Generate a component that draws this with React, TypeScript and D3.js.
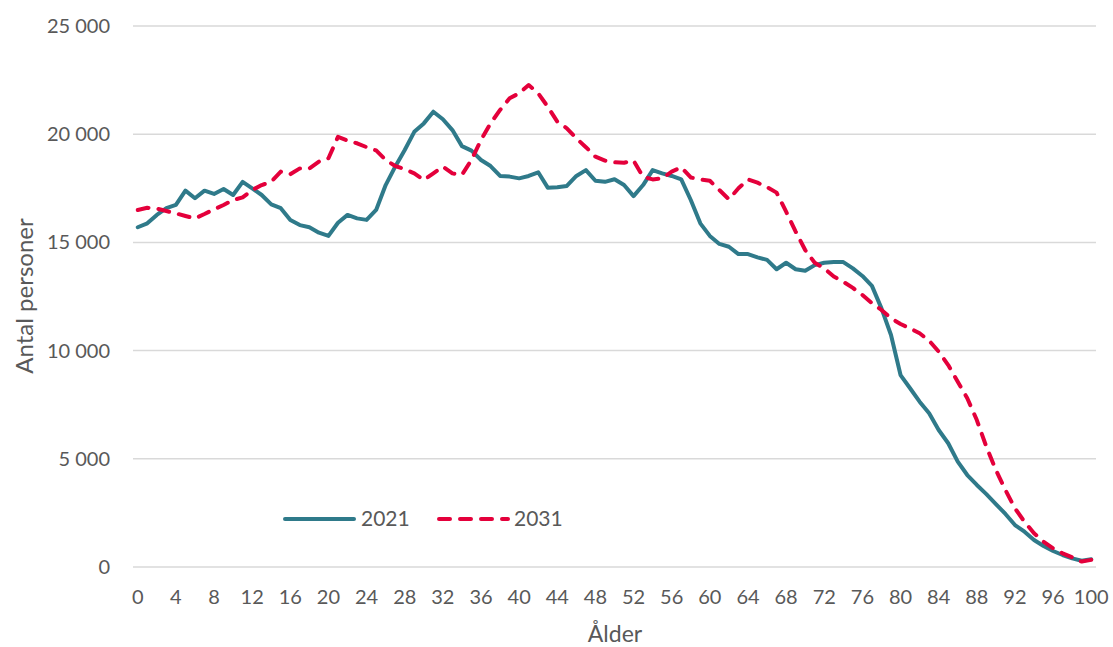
import * as d3 from "d3";

const ages: number[] = d3.range(0, 101);

const pop2021: number[] = [
  15700, 15880, 16270, 16580, 16730, 17390, 17040, 17390, 17240, 17470,
  17190, 17800, 17500, 17190, 16760, 16580, 16040, 15800, 15700, 15450,
  15300, 15910, 16270, 16110, 16040, 16500, 17650, 18500, 19270, 20110,
  20500, 21040, 20690, 20190, 19450, 19240, 18810, 18530, 18070, 18040,
  17960, 18070, 18240, 17530, 17550, 17610, 18070, 18340, 17850, 17800,
  17920, 17650, 17140, 17650, 18340, 18190, 18070, 17910, 16960, 15880,
  15300, 14930, 14800, 14460, 14460, 14310, 14190, 13760, 14060, 13760,
  13690, 13950, 14060, 14090, 14090, 13800, 13450, 12990, 11950, 10720,
  8870, 8260, 7640, 7100, 6330, 5720, 4870, 4250, 3790, 3370,
  2910, 2450, 1940, 1630, 1250, 970, 740, 555, 400, 290,
  355,
];

const pop2031: number[] = [
  16500, 16600, 16560, 16450, 16340, 16220, 16110, 16310, 16530, 16730,
  16960, 17080, 17420, 17650, 17800, 18270, 18150, 18420, 18420, 18730,
  18890, 19880, 19700, 19580, 19400, 19250, 18810, 18530, 18380, 18190,
  17880, 18190, 18500, 18190, 18120, 18810, 19730, 20500, 21120, 21660,
  21890, 22270, 21890, 21270, 20580, 20270, 19810, 19400, 18960, 18780,
  18700, 18680, 18780, 18030, 17910, 17960, 18270, 18470, 18000, 17910,
  17850, 17420, 16990, 17500, 17910, 17760, 17550, 17300, 16420, 15500,
  14650, 14060, 13800, 13420, 13180, 12900, 12570, 12190, 11880, 11490,
  11230, 11030, 10800, 10460, 9950, 9330, 8560, 7800, 6790, 5560,
  4480, 3560, 2710, 2090, 1560, 1170, 860, 630, 450, 250,
  330,
];

const yTicks: number[] = [0, 5000, 10000, 15000, 20000, 25000];
const xTicks: number[] = d3.range(0, 101, 4);

const seriesNames = ["2021", "2031"];
const seriesColors = ["#2f7a8a", "#e4003b"];

const W = 1113;
const H = 647;
const plot = { left: 133, right: 1096, top: 26, bottom: 567 };
const font = "Lato, 'Open Sans', sans-serif";
const textColor = "#595959";

// Swedish style thousands separator (space)
const fmt = (v: number) => (v === 0 ? "0" : d3.format(",")(v).replace(/,/g, "\u00a0"));

export default function App() {
  const x = d3.scalePoint<number>().domain(ages).range([plot.left, plot.right]).padding(0.5);
  const y = d3.scaleLinear().domain([0, 25000]).range([plot.bottom, plot.top]);

  const line = d3
    .line<number>()
    .x((_, i) => x(ages[i]) as number)
    .y((d) => y(d));

  const series = [pop2021, pop2031];

  return (
    <svg width={W} height={H} style={{ position: "absolute", left: 0, top: 0, background: "#fff" }}>
      {yTicks.map((t) => (
        <g key={t}>
          <line x1={plot.left} x2={plot.right} y1={y(t)} y2={y(t)} stroke="#d9d9d9" strokeWidth={1.5} />
          <text x={110} y={y(t)} dy="0.35em" textAnchor="end" fontFamily={font} fontSize={20} fill={textColor}>
            {fmt(t)}
          </text>
        </g>
      ))}
      {xTicks.map((t) => (
        <text key={t} x={x(t)} y={597} dy="0.35em" textAnchor="middle" fontFamily={font} fontSize={20} fill={textColor}>
          {t}
        </text>
      ))}
      <text x={615} y={634} dy="0.35em" textAnchor="middle" fontFamily={font} fontSize={23} fill={textColor}>
        Ålder
      </text>
      <text
        transform="translate(25,296) rotate(-90)"
        textAnchor="middle"
        dy="0.35em"
        fontFamily={font}
        fontSize={24}
        fill={textColor}
      >
        Antal personer
      </text>

      {series.map((s, i) => (
        <path
          key={seriesNames[i]}
          d={line(s) ?? ""}
          fill="none"
          stroke={seriesColors[i]}
          strokeWidth={4}
          strokeLinejoin="round"
          strokeLinecap="round"
          strokeDasharray={i === 1 ? "11 10" : undefined}
        />
      ))}

      {/* legend */}
      <g fontFamily={font} fontSize={21} fill={textColor}>
        <line x1={285} x2={354} y1={519} y2={519} stroke={seriesColors[0]} strokeWidth={4} strokeLinecap="round" />
        <text x={361} y={519} dy="0.35em">{seriesNames[0]}</text>
        <line x1={439} x2={508} y1={519} y2={519} stroke={seriesColors[1]} strokeWidth={4} strokeLinecap="round" strokeDasharray="11 10" />
        <text x={514} y={519} dy="0.35em">{seriesNames[1]}</text>
      </g>
    </svg>
  );
}
